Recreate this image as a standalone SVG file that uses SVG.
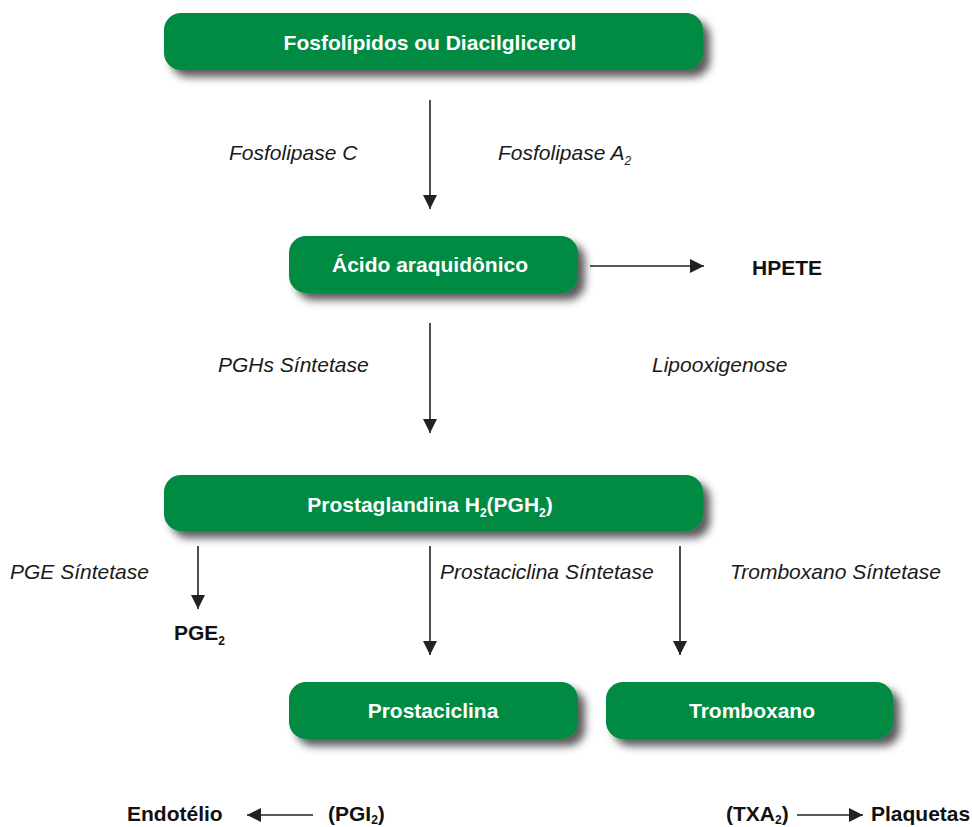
<svg xmlns="http://www.w3.org/2000/svg" width="972" height="827" viewBox="0 0 972 827">
<style>
.box{fill:#008a43;filter:url(#sh)}
.bt{font-family:"Liberation Sans",Arial,sans-serif;font-weight:bold;font-size:21px;fill:#fff;text-anchor:middle}
.lb{font-family:"Liberation Sans",Arial,sans-serif;font-style:italic;font-size:21px;fill:#1a1a1a}
.bk{font-family:"Liberation Sans",Arial,sans-serif;font-weight:bold;font-size:21px;fill:#111}
.ln{stroke:#222;stroke-width:1.6;fill:none}
.sub{font-size:12px}
</style>
<defs>
<filter id="sh" x="-10%" y="-30%" width="125%" height="180%">
<feDropShadow dx="7" dy="7" stdDeviation="4" flood-color="#000" flood-opacity="0.65"/>
</filter>
<marker id="ah" viewBox="0 0 10 10" refX="10" refY="5" markerWidth="14" markerHeight="14" markerUnits="userSpaceOnUse" orient="auto">
<path d="M0,0 L10,5 L0,10 Z" fill="#222"/>
</marker>
</defs>
<g id="connectors">
<line class="ln" x1="430" y1="100" x2="430" y2="209" marker-end="url(#ah)"/>
<line class="ln" x1="590" y1="266" x2="704" y2="266" marker-end="url(#ah)"/>
<line class="ln" x1="430" y1="323" x2="430" y2="433" marker-end="url(#ah)"/>
<line class="ln" x1="198" y1="546" x2="198" y2="609" marker-end="url(#ah)"/>
<line class="ln" x1="430" y1="546" x2="430" y2="655" marker-end="url(#ah)"/>
<line class="ln" x1="680" y1="546" x2="680" y2="655" marker-end="url(#ah)"/>
<line class="ln" x1="313" y1="815" x2="247" y2="815" marker-end="url(#ah)"/>
<line class="ln" x1="797" y1="815" x2="863" y2="815" marker-end="url(#ah)"/>
</g>
<g id="n1"><rect class="box" x="164" y="13" width="539" height="57" rx="17"/><text class="bt" x="430" y="50">Fosfolípidos ou Diacilglicerol</text></g>
<g id="n2"><rect class="box" x="289" y="236" width="289" height="57" rx="17"/><text class="bt" x="430" y="272">Ácido araquidônico</text></g>
<g id="n3"><rect class="box" x="164" y="475" width="539" height="56" rx="17"/><text class="bt" x="430" y="512">Prostaglandina H<tspan class="sub" dy="5">2</tspan><tspan dy="-5">(PGH</tspan><tspan class="sub" dy="5">2</tspan><tspan dy="-5">)</tspan></text></g>
<g id="n4"><rect class="box" x="289" y="682" width="289" height="57" rx="17"/><text class="bt" x="433" y="718">Prostaciclina</text></g>
<g id="n5"><rect class="box" x="606" y="682" width="287" height="57" rx="17"/><text class="bt" x="752" y="718">Tromboxano</text></g>
<g id="labels">
<text class="lb" x="229" y="160">Fosfolipase C</text>
<text class="lb" x="498" y="160">Fosfolipase A<tspan class="sub" dy="5">2</tspan></text>
<text class="bk" x="752" y="275">HPETE</text>
<text class="lb" x="218" y="372">PGHs Síntetase</text>
<text class="lb" x="652" y="372">Lipooxigenose</text>
<text class="lb" x="10" y="579">PGE Síntetase</text>
<text class="lb" x="440" y="579">Prostaciclina Síntetase</text>
<text class="lb" x="730" y="579">Tromboxano Síntetase</text>
<text class="bk" x="174" y="640">PGE<tspan class="sub" dy="5">2</tspan></text>
<text class="bk" x="127" y="821">Endotélio</text>
<text class="bk" x="328" y="821">(PGI<tspan class="sub" dy="3">2</tspan><tspan dy="-3">)</tspan></text>
<text class="bk" x="726" y="821">(TXA<tspan class="sub" dy="3">2</tspan><tspan dy="-3">)</tspan></text>
<text class="bk" x="871" y="821">Plaquetas</text>
</g>
</svg>
